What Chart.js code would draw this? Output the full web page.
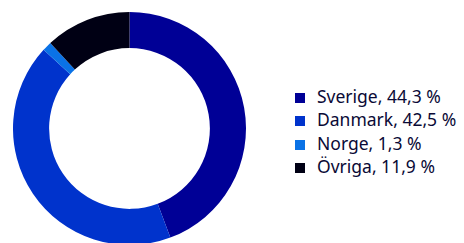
<!DOCTYPE html>
<html>
<head>
    <script src="https://cdn.jsdelivr.net/npm/chart.js@4.4.0/dist/chart.umd.min.js"></script>
    <style>
        body {
            margin: 0;
            width: 464px;
            height: 243px;
            overflow: hidden;
            background: white;
            position: relative;
            font-family: "Noto Sans", "Open Sans", sans-serif;
        }
        .chart-container {
            position: absolute;
            left: 13px;
            top: 12px;
            width: 233px;
            height: 233px;
        }
        #legend {
            position: absolute;
            left: 295px;
            top: 85px;
            margin: 0;
            padding: 0;
            list-style: none;
        }
        #legend li {
            height: 23.3px;
            line-height: 23px;
            font-size: 17.5px;
            color: #0a0a36;
            white-space: nowrap;
        }
        #legend .box {
            display: inline-block;
            width: 10px;
            height: 10px;
            margin-right: 12px;
        }
    </style>
</head>
<body>
    <div class="chart-container">
        <canvas id="shareChart"></canvas>
    </div>
    <ul id="legend"></ul>

    <script>
        const labels = ['Sverige', 'Danmark', 'Norge', 'Övriga'];
        const shares = [44.3, 42.5, 1.3, 11.9];
        const colors = ['#000096', '#0033cc', '#0a72e6', '#000014'];

        const ctx = document.getElementById('shareChart').getContext('2d');
        const chart = new Chart(ctx, {
            type: 'doughnut',
            data: {
                labels: labels,
                datasets: [{
                    data: shares,
                    backgroundColor: colors,
                    borderWidth: 0
                }]
            },
            options: {
                responsive: true,
                maintainAspectRatio: false,
                animation: false,
                cutout: '69%',
                plugins: {
                    legend: { display: false },
                    tooltip: { enabled: false }
                }
            }
        });

        // legend beside the ring, built from the same arrays
        const legend = document.getElementById('legend');
        labels.forEach((name, i) => {
            const li = document.createElement('li');
            const box = document.createElement('span');
            box.className = 'box';
            box.style.background = colors[i];
            li.appendChild(box);
            li.appendChild(document.createTextNode(name + ', ' + shares[i].toFixed(1).replace('.', ',') + ' %'));
            legend.appendChild(li);
        });
    </script>
</body>
</html>
